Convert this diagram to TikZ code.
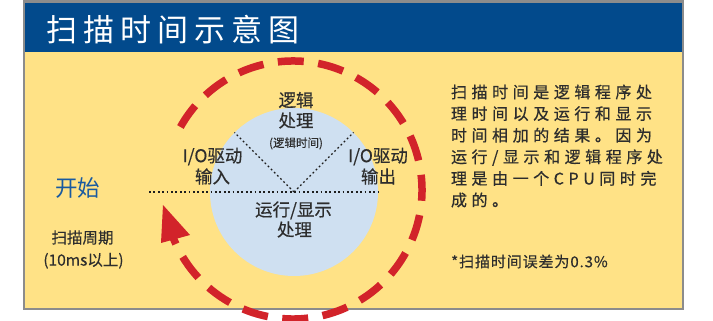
\documentclass[tikz,border=0pt]{standalone}
\usepackage{fontspec}
\setmainfont{Noto Sans CJK SC}
\definecolor{hdrblue}{RGB}{2,74,140}
\definecolor{paper}{RGB}{255,226,134}
\definecolor{diskblue}{RGB}{207,224,241}
\definecolor{scanred}{RGB}{210,35,42}
\definecolor{inkgray}{RGB}{45,45,45}
\definecolor{startblue}{RGB}{25,90,160}
\definecolor{framegray}{RGB}{140,140,140}
\definecolor{dotblack}{RGB}{30,30,30}
\newcommand{\fsz}[1]{\fontsize{#1}{#1}\selectfont}
\begin{document}
\begin{tikzpicture}[x=1pt,y=1pt,
  lbl/.style={inner sep=0pt, outer sep=0pt, text=inkgray, anchor=base},
  inlbl/.style={lbl, font={\fsz{17.5pt}\addfontfeatures{FakeBold=0.4}}},
  para/.style={inner sep=0pt, outer sep=0pt, text=inkgray, anchor=base west,
    font={\fsz{16pt}\addfontfeatures{LetterSpace=28.5,FakeBold=0.6}}},
  dotline/.style={line width=1.3pt, dash pattern=on 1.8pt off 2.6pt, draw=dotblack},
  scanring/.style={draw=scanred, line width=7.5pt, dash pattern=on 26pt off 14.53pt},
]
\useasboundingbox (0,0) rectangle (713,321);
% frame
\fill[paper] (24,12) rectangle (683,269);
\fill[hdrblue] (24,268.5) rectangle (683,319.5);
\draw[framegray, line width=2.5pt] (24,12) rectangle (683,319.5);
% title
\node[inner sep=0pt, anchor=base west, text=white,
  font={\fsz{31pt}\addfontfeatures{LetterSpace=19.5}}] (title) at (46,279.2) {扫描时间示意图};
% disk
\node[circle, fill=diskblue, minimum size=168pt, inner sep=0pt] (disk) at (294,129) {};
\coordinate (start) at (149,129);
\draw[dotline] (start) -- (disk.east);
\draw[dotline] (disk.center) -- (disk.135);
\draw[dotline] (disk.center) -- (disk.45);
% circle labels
\node[inlbl] (logic1) at (296,214.35) {逻辑};
\node[inlbl] (logic2) at (296,193.85) {处理};
\node[lbl, font={\fsz{11.5pt}\addfontfeatures{FakeBold=0.3}}] (logic3) at (296,173.9) {(逻辑时间)};
\node[inlbl] (in1) at (212.5,158.85) {I/O驱动};
\node[inlbl] (in2) at (212.5,137.85) {输入};
\node[inlbl] (out1) at (378,158.85) {I/O驱动};
\node[inlbl] (out2) at (378.5,137.85) {输出};
\node[inlbl] (run1) at (293.5,104.85) {运行/显示};
\node[inlbl] (run2) at (294.5,84.85) {处理};
% left labels
\node[lbl, text=startblue, font=\fsz{22.5pt}] (begin) at (77.5,124.4) {开始};
\node[lbl, font={\fsz{15.5pt}\addfontfeatures{FakeBold=0.4}}] (period1) at (82.5,77.6) {扫描周期};
\node[lbl, font={\fsz{15.5pt}\addfontfeatures{FakeBold=0.4}}] (period2) at (83.5,55.4) {(10ms以上)};
% right paragraph
\node[para] (p1) at (451,222.9) {扫描时间是逻辑程序处};
\node[para] (p2) at (451,201.3) {理时间以及运行和显示};
\node[para] (p3) at (451,179.7) {时间相加的结果。因为};
\node[para] (p4) at (451,158.1) {运行/显示和逻辑程序处};
\node[para] (p5) at (451,136.5) {理是由一个CPU同时完};
\node[para] (p6) at (451,114.9) {成的。};
\node[inner sep=0pt, anchor=base west, text=inkgray,
  font={\fsz{15pt}\addfontfeatures{LetterSpace=6,FakeBold=0.4}}] (note) at (451,53.8) {*扫描时间误差为0.3\%};
% scan ring
\coordinate (ringc) at (293,131);
\draw[scanring] (ringc) ++(150.77:129) arc[start angle=150.77, end angle=-160, radius=129];
\coordinate (tipL) at (161,78);
\coordinate (tip) at (163,116);
\coordinate (tipR) at (190,86);
\fill[scanred] (tipL) -- (tip) -- (tipR) -- cycle;
\end{tikzpicture}
\end{document}
